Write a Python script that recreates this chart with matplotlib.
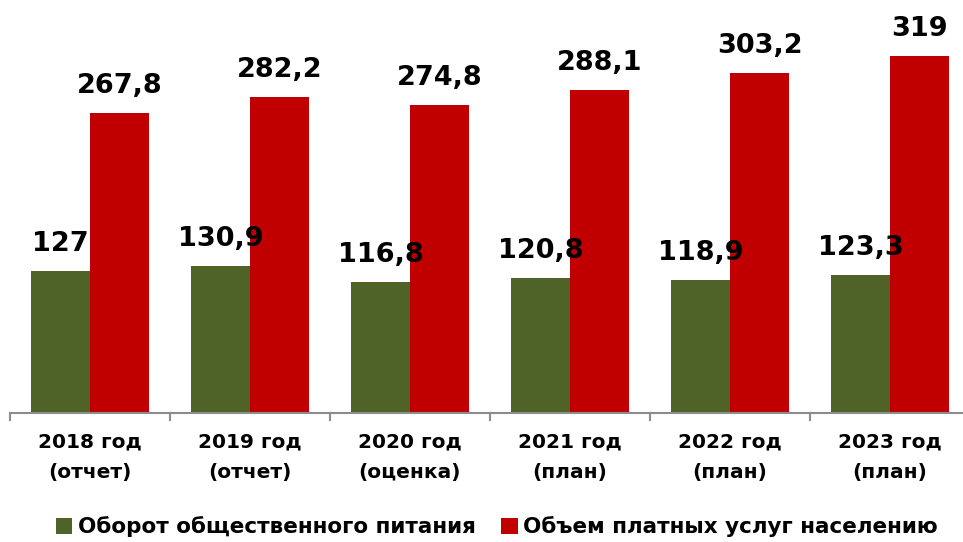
import matplotlib
matplotlib.use("Agg")
import matplotlib.pyplot as plt
import numpy as np

categories = ["2018 год\n(отчет)", "2019 год\n(отчет)", "2020 год\n(оценка)",
              "2021 год\n(план)", "2022 год\n(план)", "2023 год\n(план)"]
catering = [127, 130.9, 116.8, 120.8, 118.9, 123.3]
services = [267.8, 282.2, 274.8, 288.1, 303.2, 319]
catering_labels = ["127", "130,9", "116,8", "120,8", "118,9", "123,3"]
services_labels = ["267,8", "282,2", "274,8", "288,1", "303,2", "319"]
series_names = ["Оборот общественного питания", "Объем платных услуг населению"]

plt.rcParams['font.family'] = ['DejaVu Sans']

fig = plt.figure(figsize=(9.63, 5.42), dpi=100)
W, H = 963, 542
ax = fig.add_axes([10 / W, (H - 413) / H, 960 / W, 413 / H])

x = np.arange(len(categories))
bw = 0.37
green = "#4F6228"
red = "#C00000"
b1 = ax.bar(x - bw / 2, catering, bw, color=green, label=series_names[0])
b2 = ax.bar(x + bw / 2, services, bw, color=red, label=series_names[1])

for xi, v, t in zip(x, catering, catering_labels):
    ax.annotate(t, (xi - bw / 2, v), xytext=(0, 10), textcoords="offset points",
                ha="center", va="bottom", fontsize=19.5, fontweight="heavy")
for xi, v, t in zip(x, services, services_labels):
    ax.annotate(t, (xi + bw / 2, v), xytext=(0, 10), textcoords="offset points",
                ha="center", va="bottom", fontsize=19.5, fontweight="heavy")

ax.set_xlim(-0.5, len(categories) - 0.5)
ax.set_ylim(0, 368.7)
for s in ["top", "right", "left"]:
    ax.spines[s].set_visible(False)
ax.spines["bottom"].set_color("#8C8C8C")
ax.spines["bottom"].set_linewidth(1.5)
ax.set_yticks([])
ax.set_xticks(x)
ax.set_xticklabels(categories, fontsize=14.5, fontweight="bold", linespacing=1.75)
ax.tick_params(axis="x", length=0, pad=14)
ax.set_xticks(np.arange(len(categories) + 1) - 0.5, minor=True)
ax.tick_params(axis="x", which="minor", length=6, width=1.5, color="#8C8C8C")

leg = fig.legend(handles=[b1, b2], labels=series_names, loc="center",
                 bbox_to_anchor=(497 / W, (H - 527) / H), ncol=2, frameon=False,
                 prop={"size": 15.5, "weight": "bold"}, handlelength=0.75,
                 handleheight=0.75, handletextpad=0.25, columnspacing=1.2)

fig.savefig("out.png", dpi=100)
